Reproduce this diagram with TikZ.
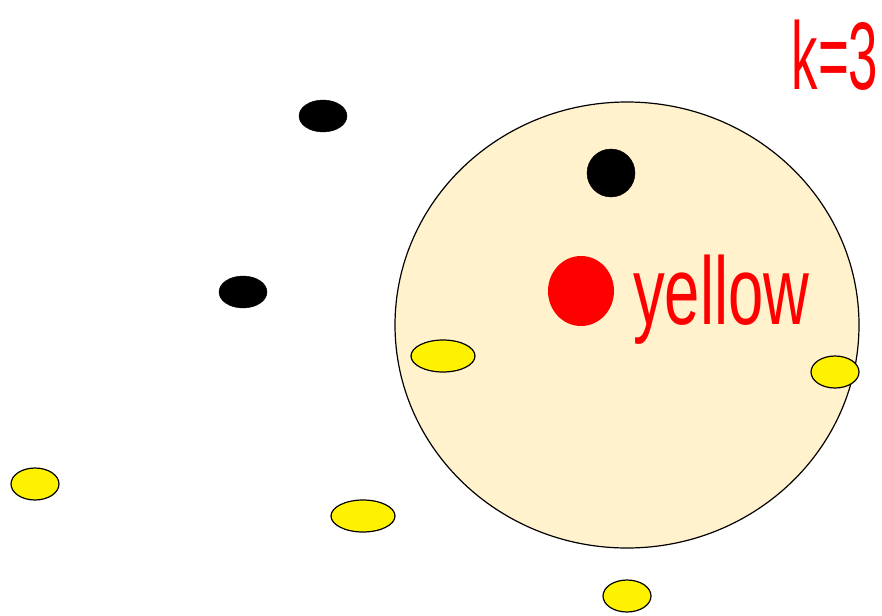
\documentclass[tikz,border=0pt]{standalone}
\usepackage{fontspec}
\setmainfont{Liberation Sans}
\usepackage{tikz}
\usetikzlibrary{shapes.geometric}
\definecolor{hoodfill}{HTML}{FFF2CC}

\tikzset{
  dotblack/.style={ellipse, draw=black, fill=black, inner sep=0pt, minimum width=48pt, minimum height=32pt},
  dotyellow/.style={ellipse, draw=black, line width=1.2pt, fill=yellow, inner sep=0pt, minimum width=48pt, minimum height=32pt},
  handnote/.style={text=red, font=\fontsize{96}{96}\selectfont, inner sep=0pt}
}

\begin{document}
\begin{tikzpicture}[x=1pt, y=-1pt]
\useasboundingbox (0,0) rectangle (882,615);

% Neighbourhood circle
\node[ellipse, draw=black, line width=1.2pt, fill=hoodfill, minimum width=464pt, minimum height=446pt, inner sep=0pt] (hood) at (627,325) {};

% Black points
\node[dotblack] (b1) at (323,116) {};
\node[dotblack] (b2) at (243,292) {};
\node[dotblack, minimum width=48pt, minimum height=48pt] (b3) at (611,173) {};

% Yellow points
\node[dotyellow, minimum width=64pt] (y1) at (443,356) {};
\node[dotyellow] (y2) at (835,372) {};
\node[dotyellow] (y3) at (35,484) {};
\node[dotyellow, minimum width=64pt] (y4) at (363,516) {};
\node[dotyellow] (y5) at (627,596) {};

% Query point and labels
\node[ellipse, fill=red, minimum width=66pt, minimum height=70pt, inner sep=0pt] (query) at (581,291) {};
\node[handnote, xscale=0.66, anchor=west] (lbl) at (633,300) {yellow};
\node[handnote, xscale=0.55] (kval) at (835,55) {k=3};
\end{tikzpicture}
\end{document}
